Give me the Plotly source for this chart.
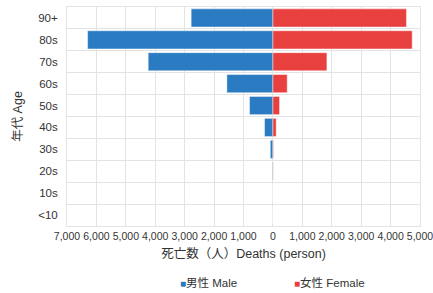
import plotly.graph_objects as go

ages = ["<10", "10s", "20s", "30s", "40s", "50s", "60s", "70s", "80s", "90+"]
male = [5, 5, 25, 90, 285, 795, 1565, 4240, 6300, 2780]
female = [3, 3, 10, 20, 112, 225, 486, 1835, 4735, 4540]
xticks = [-7000, -6000, -5000, -4000, -3000, -2000, -1000, 0, 1000, 2000, 3000, 4000, 5000]
xticklabels = ["7,000", "6,000", "5,000", "4,000", "3,000", "2,000", "1,000", "0",
               "1,000", "2,000", "3,000", "4,000", "5,000"]
series_names = ["男性 Male", "女性 Female"]

FONT = "Liberation Sans, Arial, Noto Sans CJK JP, sans-serif"
BLUE = "#2a7bc1"
RED = "#e8403f"
TXT = "#333"

fig = go.Figure()
fig.add_trace(go.Bar(
    y=ages, x=[-v for v in male], orientation="h", name=series_names[0], showlegend=False,
    marker=dict(color=BLUE, line=dict(color="rgba(255,255,255,0.45)", width=1)),
))
fig.add_trace(go.Bar(
    y=ages, x=female, orientation="h", name=series_names[1], showlegend=False,
    marker=dict(color=RED, line=dict(color="rgba(255,255,255,0.45)", width=1)),
))

# legend drawn as text
fig.add_annotation(xref="paper", yref="paper", x=(178 - 67) / 353, y=(226 - 282) / 219,
                   xanchor="left", yanchor="middle", showarrow=False,
                   text=f'<span style="color:{BLUE};font-size:10px">■</span>{series_names[0]}',
                   font=dict(size=11.5, color=TXT))
fig.add_annotation(xref="paper", yref="paper", x=(292 - 67) / 353, y=(226 - 282) / 219,
                   xanchor="left", yanchor="middle", showarrow=False,
                   text=f'<span style="color:{RED};font-size:10px">■</span>{series_names[1]}',
                   font=dict(size=11.5, color=TXT))

fig.update_layout(
    width=433, height=293,
    margin=dict(l=67, r=13, t=7, b=67),
    barmode="overlay", bargap=0.17,
    paper_bgcolor="white", plot_bgcolor="white",
    font=dict(family=FONT, size=11, color=TXT),
    showlegend=False,
    xaxis=dict(range=[-7000, 5000], tickvals=xticks, ticktext=xticklabels, automargin=False,
               showgrid=True, gridcolor="#e3e3e3", gridwidth=1, ticklabeloverflow="allow",
               zeroline=False, showline=True, linecolor="#e3e3e3", mirror=True,
               tickfont=dict(size=10.5, color=TXT), ticks="",
               title=dict(text="死亡数（人）Deaths (person)", font=dict(size=12.5, color=TXT), standoff=8)),
    yaxis=dict(type="category", categoryorder="array", categoryarray=ages, automargin=False,
               tickson="boundaries", showgrid=True, gridcolor="#e3e3e3", gridwidth=1,
               showline=True, linecolor="#e3e3e3", mirror=True, ticks="", ticklabelstandoff=6,
               tickfont=dict(size=11.5, color=TXT),
               title=dict(text="年代 Age", font=dict(size=12.5, color=TXT), standoff=12)),
)

fig.write_html("out.html", config={"displayModeBar": False},
               post_script="document.body.style.margin='0';document.body.style.padding='0';")
